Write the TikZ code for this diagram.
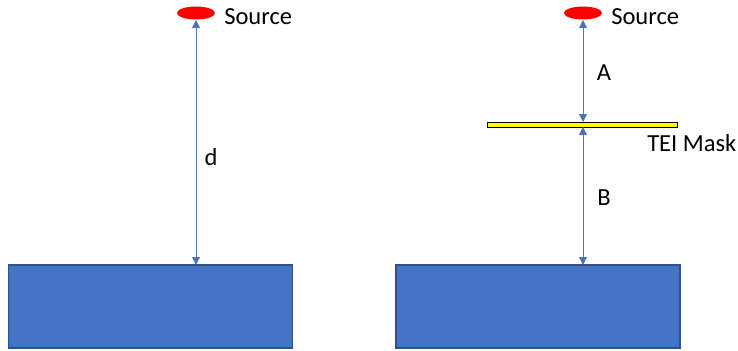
\documentclass[tikz,border=0pt]{standalone}
\usepackage{fontspec}
\setmainfont{Carlito}
\usetikzlibrary{arrows.meta,shapes.geometric}
\definecolor{boxblue}{HTML}{4472C4}
\definecolor{boxedge}{HTML}{2F528F}
\definecolor{maskyellow}{HTML}{FFFF00}
\begin{document}
\begin{tikzpicture}[x=0.75pt,y=-0.75pt,
  detector/.style={draw=boxedge,fill=boxblue,line width=0.9pt,minimum width=284*0.75pt,minimum height=83*0.75pt,inner sep=0pt},
  source/.style={ellipse,fill=red,minimum width=38*0.75pt,minimum height=13*0.75pt,inner sep=0pt},
  mask/.style={draw=black,fill=maskyellow,line width=0.75pt,minimum width=190*0.75pt,minimum height=5*0.75pt,inner sep=0pt},
  lbl/.style={font=\fontsize{18.4pt}{22pt}\selectfont,inner sep=0pt},
  dim/.style={draw=boxblue!70!gray,line width=0.6pt,{Triangle[length=6pt,width=6pt,fill=boxblue]}-{Triangle[length=6pt,width=6pt,fill=boxblue]}}
]
\useasboundingbox (0,0) rectangle (738,350);
% left
\node[detector] (det1) at (150.5,306.5) {};
\node[source] (src1) at (196,13) {};
\node[lbl,anchor=west] (srcl1) at (224,17) {Source};
\coordinate (src1b) at (196,20);
\coordinate (det1t) at (196,265);
\draw[dim] (src1b) -- (det1t);
\node[lbl] (d) at (211,157) {d};
% right
\node[detector] (det2) at (538,306.5) {};
\node[source] (src2) at (583,13) {};
\node[lbl,anchor=west] (srcl2) at (611,17) {Source};
\node[mask] (m) at (582,124.5) {};
\node[lbl,anchor=west] (ml) at (647,143) {TEI Mask};
\coordinate (src2b) at (583,20);
\coordinate (mt) at (583,122);
\coordinate (mb) at (583,127);
\coordinate (det2t) at (583,265);
\draw[dim] (src2b) -- (mt);
\draw[dim] (mb) -- (det2t);
\node[lbl] (A) at (604,73) {A};
\node[lbl] (B) at (604,198) {B};
\end{tikzpicture}
\end{document}
